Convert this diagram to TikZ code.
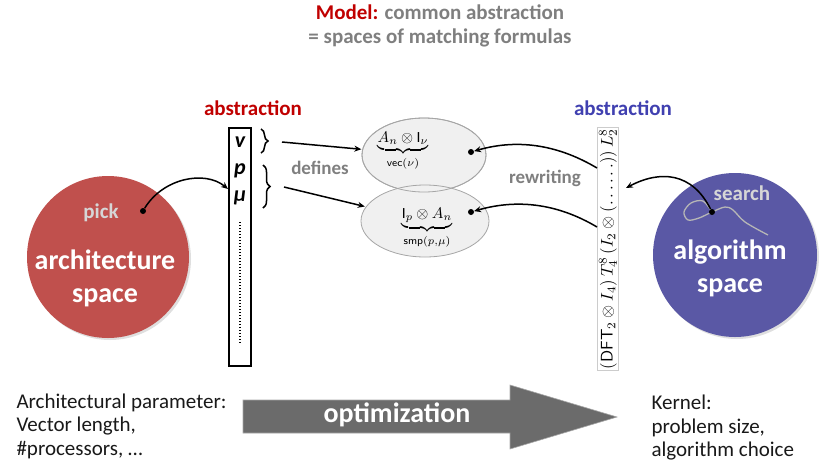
\documentclass[tikz,border=0pt]{standalone}
\usepackage{amsmath}
\usepackage{graphicx}
\usepackage{fontspec}
\setmainfont{Carlito}
\usetikzlibrary{decorations.pathreplacing,arrows.meta,shadows,shapes.geometric}

\definecolor{archred}{HTML}{C0504D}
\definecolor{algblue}{HTML}{5A58A5}
\definecolor{titlered}{HTML}{C00000}
\definecolor{absblue}{HTML}{4040B0}
\definecolor{midgray}{HTML}{7F7F7F}
\definecolor{lightlabel}{HTML}{D6D6D6}
\definecolor{bigarrow}{HTML}{6B6B6B}
\definecolor{setfill}{HTML}{F0F0F0}
\definecolor{setline}{HTML}{A6A6A6}

\begin{document}
\begin{tikzpicture}[x=1pt,y=-1pt,
  heading/.style={font=\fontsize{21}{24}\selectfont\bfseries},
  graylabel/.style={font=\fontsize{19}{22}\selectfont\bfseries, text=midgray},
  softlabel/.style={font=\fontsize{21}{24}\selectfont\bfseries, text=lightlabel},
  spacelabel/.style={font=\fontsize{28}{33}\selectfont\bfseries, text=white, align=center},
  plain/.style={font=\fontsize{21}{23.5}\selectfont, align=left, text=black!90},
  param/.style={font=\fontsize{22}{24}\selectfont\bfseries\itshape},
  space/.style={circle, draw=none, drop shadow={opacity=0.25, shadow xshift=2pt, shadow yshift=-2pt}},
  setell/.style={ellipse, draw=setline, fill=setfill, line width=0.8pt, inner sep=0pt},
  conn/.style={line width=1.5pt, -{Stealth[length=7pt,width=6pt]}},
  dotnode/.style={circle, fill=black, inner sep=0pt, minimum size=6pt},
  bracestyle/.style={decorate, decoration={brace, amplitude=7pt}, line width=1.5pt}
]
\useasboundingbox (0,0) rectangle (831,467);

% title
\node[heading, text=midgray, align=center] (title) at (440,26)
  {\textcolor{titlered}{Model:} common abstraction\\= spaces of matching formulas};

% architecture side
\node[space, fill=archred, minimum size=162pt] (arch) at (108,257) {};
\node[softlabel] (pick) at (101,213) {pick};
\node[spacelabel] (archtxt) at (105,278) {architecture\\space};
\node[dotnode] (pickdot) at (143,211) {};

\node[heading, text=titlered] (absL) at (253,108) {abstraction};
\node[draw=black, fill=white, line width=1.2pt, minimum width=22pt, minimum height=238pt, inner sep=0pt] (rect) at (240,247) {};
\node[param] (pv) at (240,142) {v};
\node[param] (pp) at (240,171) {p};
\node[param] (pmu) at (240,198) {μ};
\draw[line width=1.3pt, dash pattern=on 0.9pt off 2.1pt] (240,222) -- (240,343);

\draw[bracestyle] (261,129) -- (261,153);
\draw[bracestyle] (263,165) -- (263,208);
\coordinate (b1) at (282,142);
\coordinate (b2) at (284,187);
\node[graylabel] (defines) at (320,168) {defines};

\coordinate (pin) at (228,189);
\draw[conn] (pickdot) .. controls (163,178) and (205,170) .. (pin);

% formula spaces
\node[setell, minimum width=124pt, minimum height=74pt] (e1) at (424,155) {};
\node[setell, minimum width=128pt, minimum height=72pt] (e2) at (425,221) {};
\draw[setline, line width=0.8pt] (424,155) ellipse [x radius=62, y radius=37];
\node (f1) at (403,151)
  {\scalebox{1.55}{$\underbrace{A_n \otimes \mathrm{I}_\nu}_{\textsf{vec}(\nu)}$}};
\node (f2) at (427,228)
  {\scalebox{1.55}{$\underbrace{\mathrm{I}_p \otimes A_n}_{\textsf{smp}(p,\mu)}$}};
\node[dotnode] (d1) at (471,152) {};
\node[dotnode] (d2) at (471,212) {};

\draw[conn, shorten >=1pt] (b1) -- (e1);
\draw[conn, shorten >=1pt] (b2) -- (e2);

% algorithm side
\node[heading, text=absblue] (absR) at (623,108) {abstraction};
\node[rotate=90, draw=black!20, line width=0.5pt, inner sep=1.5pt] (formula) at (608,249)
  {\resizebox{240pt}{!}{$(\mathsf{DFT}_2\otimes I_4)\,T^8_4\,(I_2\otimes(\ldots\ldots))\,L^8_2$}};
\coordinate (r1) at (597,168);
\coordinate (r2) at (597,227);
\node[graylabel] (rewriting) at (545,178) {rewriting};
\draw[conn] (r1) .. controls (560,146) and (520,138) .. (d1);
\draw[conn] (r2) .. controls (560,205) and (520,198) .. (d2);

\node[space, fill=algblue, minimum size=164pt] (alg) at (735,255) {};
\node[softlabel] (search) at (742,193) {search};
\node[spacelabel] (algtxt) at (730,268) {algorithm\\space};
\draw[lightlabel!85!black, line width=1.3pt, line join=round]
  plot[smooth, tension=0.55] coordinates {(712,212) (703,201) (691,203) (684,212) (688,220) (699,218) (712,212) (725,207) (733,210) (745,222) (768,235)};
\node[dotnode] (searchdot) at (712,212) {};
\coordinate (sin) at (626,188);
\draw[conn] (searchdot) .. controls (692,172) and (660,170) .. (sin);

% optimization arrow
\fill[bigarrow, draw=black!35, line width=0.6pt]
  (243,400) -- (510,400) -- (510,385) -- (617,417) -- (510,449) -- (510,433) -- (243,433) -- cycle;
\node[font=\fontsize{28}{32}\selectfont\bfseries, text=white] (opt) at (397,415) {optimization};

% bottom captions
\node[plain, anchor=west] (archpar) at (13,426)
  {Architectural parameter:\\Vector length,\\\#processors, \ldots};
\node[plain, anchor=west] (kernel) at (648,428)
  {Kernel:\\problem size,\\algorithm choice};
\end{tikzpicture}
\end{document}
